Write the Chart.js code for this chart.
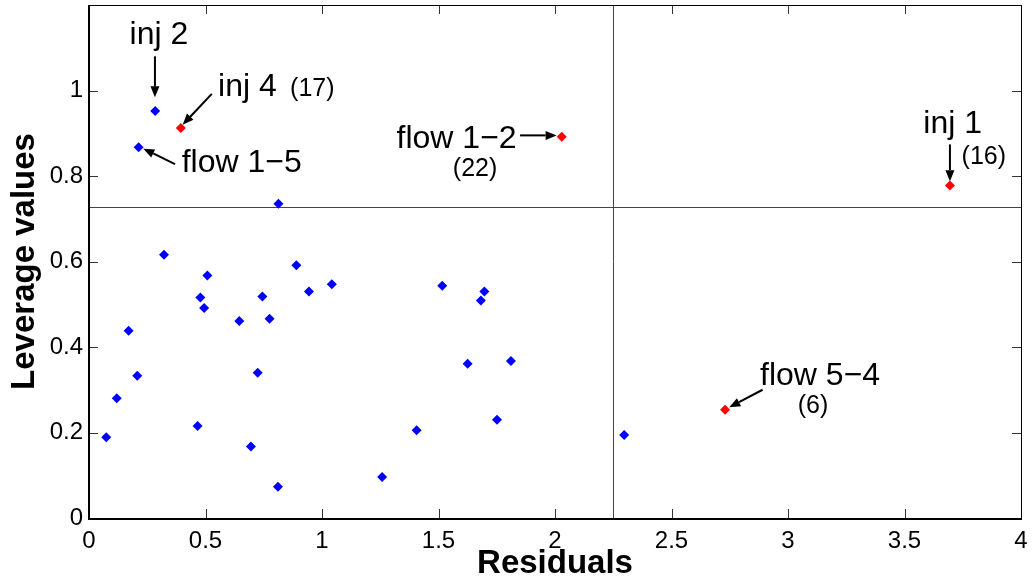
<!DOCTYPE html>
<html>
<head>
<meta charset="utf-8">
<script src="https://cdn.jsdelivr.net/npm/chart.js@4"></script>
<style>
  html, body { margin: 0; padding: 0; background: #fff; }
  #wrap { width: 1034px; height: 586px; }
</style>
</head>
<body>
<div id="wrap"><canvas id="leverageChart"></canvas></div>
<script>
// residual / leverage pairs
const normalX = [0.074, 0.119, 0.170, 0.207, 0.322, 0.466, 0.478, 0.494, 0.508, 0.645,
  0.695, 0.724, 0.744, 0.775, 0.811, 0.890, 0.944, 1.042, 1.258, 1.406,
  1.516, 1.625, 1.682, 1.697, 1.751, 1.811, 2.297, 0.813, 0.284, 0.213];
const normalY = [0.189, 0.280, 0.438, 0.333, 0.616, 0.215, 0.516, 0.491, 0.567, 0.461,
  0.167, 0.340, 0.518, 0.466, 0.073, 0.591, 0.530, 0.547, 0.096, 0.205,
  0.543, 0.361, 0.509, 0.530, 0.230, 0.367, 0.194, 0.735, 0.952, 0.867];

// flagged measurements (red)
const flaggedX = [0.394, 2.029, 3.695, 2.730];
const flaggedY = [0.912, 0.892, 0.778, 0.253];

// threshold lines
const residualLimit = 2.25;
const leverageLimit = 0.728;

// annotation labels, in data units
const labelText = ['inj 2', 'inj 4', '(17)', 'flow 1\u22125', 'flow 1\u22122', '(22)', 'inj 1', '(16)', 'flow 5\u22124', '(6)'];
const labelX = [0.300, 0.554, 0.863, 0.398, 1.320, 1.657, 3.581, 3.745, 2.880, 3.107];
const labelY = [1.108, 0.987, 0.987, 0.809, 0.866, 0.799, 0.901, 0.827, 0.311, 0.246];
const labelBig = [true, true, false, true, true, false, true, false, true, false];
const labelCenter = [true, false, false, false, false, true, false, false, false, true];

// arrows: start -> tip, in data units
const arrowFrom = [[0.283, 1.080], [0.527, 0.992], [0.369, 0.828], [1.850, 0.895], [3.695, 0.874], [2.891, 0.300]];
const arrowTo = [[0.283, 0.984], [0.402, 0.920], [0.233, 0.864], [2.007, 0.895], [3.695, 0.788], [2.748, 0.259]];

const FONT = '"Liberation Sans", Arial, Helvetica, sans-serif';

function toPoints(xs, ys) {
  return xs.map((x, i) => ({ x: x, y: ys[i] }));
}

const decorPlugin = {
  id: 'decor',
  beforeDatasetsDraw(chart) {
    const ctx = chart.ctx;
    const xs = chart.scales.x, ys = chart.scales.y;
    const a = chart.chartArea;
    ctx.save();
    // quadrant lines
    ctx.strokeStyle = '#444';
    ctx.lineWidth = 1;
    const vx = Math.round(xs.getPixelForValue(residualLimit)) + 0.5;
    const hy = Math.round(ys.getPixelForValue(leverageLimit)) + 0.5;
    ctx.beginPath();
    ctx.moveTo(vx, a.top); ctx.lineTo(vx, a.bottom);
    ctx.moveTo(a.left, hy); ctx.lineTo(a.right, hy);
    ctx.stroke();

    // inward ticks
    ctx.strokeStyle = '#333';
    ctx.beginPath();
    xs.ticks.forEach(t => {
      const px = Math.round(xs.getPixelForValue(t.value)) + 0.5;
      ctx.moveTo(px, a.bottom); ctx.lineTo(px, a.bottom - 9);
      ctx.moveTo(px, a.top); ctx.lineTo(px, a.top + 9);
    });
    ys.ticks.forEach(t => {
      const py = Math.round(ys.getPixelForValue(t.value)) + 0.5;
      ctx.moveTo(a.left, py); ctx.lineTo(a.left + 9, py);
      ctx.moveTo(a.right, py); ctx.lineTo(a.right - 9, py);
    });
    ctx.stroke();

    // box
    ctx.strokeStyle = '#000';
    ctx.lineWidth = 1;
    ctx.strokeRect(a.left + 0.5, a.top + 0.5, a.right - a.left, a.bottom - a.top);
    ctx.lineWidth = 2;
    ctx.beginPath();
    ctx.moveTo(a.left, a.top); ctx.lineTo(a.left, a.bottom + 1); ctx.lineTo(a.right + 1, a.bottom + 1);
    ctx.stroke();
    ctx.restore();
  },
  afterDatasetsDraw(chart) {
    const ctx = chart.ctx;
    const xs = chart.scales.x, ys = chart.scales.y;
    ctx.save();
    ctx.fillStyle = '#000';
    ctx.textBaseline = 'alphabetic';
    labelText.forEach((txt, i) => {
      ctx.font = (labelBig[i] ? 32 : 25) + 'px ' + FONT;
      ctx.textAlign = labelCenter[i] ? 'center' : 'left';
      ctx.fillText(txt, xs.getPixelForValue(labelX[i]), ys.getPixelForValue(labelY[i]));
    });

    ctx.strokeStyle = '#000';
    ctx.lineWidth = 2;
    arrowFrom.forEach((f, i) => {
      const x1 = xs.getPixelForValue(f[0]), y1 = ys.getPixelForValue(f[1]);
      const x2 = xs.getPixelForValue(arrowTo[i][0]), y2 = ys.getPixelForValue(arrowTo[i][1]);
      const ang = Math.atan2(y2 - y1, x2 - x1);
      const hl = 11, hw = 4.5;
      const bx = x2 - hl * Math.cos(ang), by = y2 - hl * Math.sin(ang);
      ctx.beginPath();
      ctx.moveTo(x1, y1); ctx.lineTo(bx, by);
      ctx.stroke();
      ctx.beginPath();
      ctx.moveTo(x2, y2);
      ctx.lineTo(bx + hw * Math.sin(ang), by - hw * Math.cos(ang));
      ctx.lineTo(bx - hw * Math.sin(ang), by + hw * Math.cos(ang));
      ctx.closePath();
      ctx.fill();
    });
    ctx.restore();
  }
};

window.onload = function () {
  const ctx = document.getElementById('leverageChart').getContext('2d');
  new Chart(ctx, {
    type: 'scatter',
    data: {
      datasets: [
        {
          label: 'measurements',
          data: toPoints(normalX, normalY),
          pointStyle: 'rectRot',
          pointRadius: 5,
          backgroundColor: '#0000ff',
          borderColor: '#0000ff',
          borderWidth: 0
        },
        {
          label: 'flagged',
          data: toPoints(flaggedX, flaggedY),
          pointStyle: 'rectRot',
          pointRadius: 5,
          backgroundColor: '#ff0000',
          borderColor: '#ff0000',
          borderWidth: 0
        }
      ]
    },
    options: {
      responsive: true,
      maintainAspectRatio: false,
      animation: false,
      layout: { padding: { top: 5, right: 13, left: 0, bottom: 0 } },
      plugins: {
        legend: { display: false },
        tooltip: { enabled: false }
      },
      scales: {
        x: {
          type: 'linear',
          min: 0,
          max: 4,
          grid: { display: false },
          border: { display: false },
          ticks: {
            stepSize: 0.5,
            padding: 1,
            color: '#000',
            font: { family: FONT, size: 24 },
            callback: function (value) {
              return Math.round(value * 10) / 10;
            }
          },
          title: {
            display: true,
            text: 'Residuals',
            color: '#000',
            padding: { top: 0, bottom: 2 },
            font: { family: FONT, size: 33, weight: 'bold' }
          },
          afterFit: s => { s.height = 68; s.paddingLeft = 0; s.paddingRight = 0; }
        },
        y: {
          type: 'linear',
          min: 0,
          max: 1.2,
          grid: { display: false, tickLength: 0 },
          border: { display: false },
          ticks: {
            stepSize: 0.2,
            padding: 6,
            color: '#000',
            font: { family: FONT, size: 24 },
            callback: function (value) {
              return value > 1.05 ? '' : Math.round(value * 10) / 10;
            }
          },
          title: {
            display: true,
            text: 'Leverage values',
            color: '#000',
            padding: { top: 5, bottom: 0 },
            font: { family: FONT, size: 33, weight: 'bold' }
          },
          afterFit: s => { s.width = 89; s.paddingTop = 0; s.paddingBottom = 0; }
        }
      }
    },
    plugins: [decorPlugin]
  });
};
</script>
</body>
</html>
